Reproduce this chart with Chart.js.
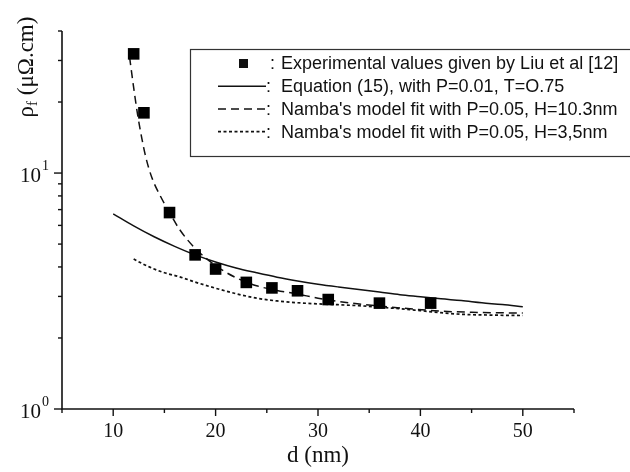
<!DOCTYPE html>
<html>
<head>
<meta charset="utf-8">
<script src="https://cdn.jsdelivr.net/npm/chart.js@4.4.0/dist/chart.umd.min.js"></script>
<style>
html, body { margin: 0; padding: 0; background: #fff; }
#wrap { width: 630px; height: 472px; }
</style>
</head>
<body>
<div id="wrap"><canvas id="chart" width="630" height="472"></canvas></div>
<script>
// Experimental points (Liu et al)
const expD = [12, 13, 15.5, 18, 20, 23, 25.5, 28, 31, 36, 41];
const expRho = [32.0, 18.0, 6.8, 4.5, 3.92, 3.44, 3.26, 3.17, 2.91, 2.81, 2.81];

// Equation (15)
const eqD = [10, 12, 14, 16, 18, 20, 22, 24, 26, 28, 30, 32, 34, 36, 38, 40, 42, 44, 46, 48, 50];
const eqRho = [6.72, 5.97, 5.37, 4.89, 4.5, 4.2, 3.96, 3.78, 3.62, 3.49, 3.38, 3.29, 3.21, 3.13, 3.05, 2.99, 2.93, 2.88, 2.82, 2.77, 2.71];

// Namba fit, H=10.3nm
const nambaAD = [11.6, 12, 12.4, 12.8, 13.2, 13.8, 14.6, 15.5, 16.5, 18, 20, 22, 24, 26, 28, 30, 33, 36, 39, 42, 45, 50];
const nambaARho = [31, 23, 17.5, 14, 11.6, 9.5, 8.0, 6.8, 5.75, 4.8, 4.05, 3.6, 3.33, 3.18, 3.07, 2.95, 2.82, 2.73, 2.66, 2.6, 2.57, 2.55];

// Namba fit, H=3.5nm
const nambaBD = [12, 13, 14, 15, 16.5, 18, 20, 22, 24, 26, 28, 30, 34, 36, 38, 40, 42, 44, 47, 50];
const nambaBRho = [4.32, 4.1, 3.92, 3.78, 3.63, 3.45, 3.25, 3.08, 2.95, 2.87, 2.82, 2.79, 2.74, 2.7, 2.66, 2.61, 2.56, 2.52, 2.5, 2.49];

// Axis ticks
const xTicks = [5, 10, 15, 20, 25, 30, 35, 40, 45, 50, 55];
const xTickLabels = [10, 20, 30, 40, 50];
const yTicks = [1, 2, 3, 4, 5, 6, 7, 8, 9, 10, 20, 30, 40];
const yTickLabels = [1, 10];
const yTickExp = ['0', '1'];

const serif = '"Liberation Serif", "Times New Roman", serif';
const sans = '"Liberation Sans", Arial, sans-serif';

function pts(xs, ys) {
    return xs.map((x, i) => ({ x: x, y: ys[i] }));
}

const axesPlugin = {
    id: 'axesPlugin',
    afterDraw(chart) {
        const ctx = chart.ctx;
        const xs = chart.scales.x;
        const ys = chart.scales.y;
        const a = chart.chartArea;
        ctx.save();
        ctx.strokeStyle = '#111';
        ctx.fillStyle = '#111';
        ctx.lineWidth = 1.6;

        // axis lines
        ctx.beginPath();
        ctx.moveTo(a.left, a.top);
        ctx.lineTo(a.left, a.bottom);
        ctx.lineTo(a.right, a.bottom);
        ctx.stroke();

        // x ticks
        ctx.lineWidth = 1.4;
        xTicks.forEach(v => {
            const px = xs.getPixelForValue(v);
            const len = xTickLabels.includes(v) ? 7 : 4;
            ctx.beginPath();
            ctx.moveTo(px, a.bottom);
            ctx.lineTo(px, a.bottom + len);
            ctx.stroke();
        });
        ctx.font = '20px ' + serif;
        ctx.textAlign = 'center';
        ctx.textBaseline = 'middle';
        xTickLabels.forEach(v => {
            ctx.fillText(String(v), xs.getPixelForValue(v), a.bottom + 23);
        });

        // y ticks
        yTicks.forEach(v => {
            const py = ys.getPixelForValue(v);
            const len = yTickLabels.includes(v) ? 8 : 4;
            ctx.beginPath();
            ctx.moveTo(a.left, py);
            ctx.lineTo(a.left - len, py);
            ctx.stroke();
        });
        yTickLabels.forEach((v, i) => {
            const py = ys.getPixelForValue(v);
            ctx.font = '21px ' + serif;
            ctx.textAlign = 'right';
            ctx.fillText('10', a.left - 21, py + 3);
            ctx.font = '14px ' + serif;
            ctx.textAlign = 'left';
            ctx.fillText(yTickExp[i], a.left - 20, py - 7);
        });

        // axis titles
        ctx.font = '23px ' + serif;
        ctx.textAlign = 'center';
        ctx.fillText('d (nm)', (xs.getPixelForValue(30)), a.bottom + 47);

        ctx.save();
        ctx.translate(27, 67);
        ctx.rotate(-Math.PI / 2);
        ctx.textAlign = 'left';
        const big = '23px ' + serif;
        const small = '15px ' + serif;
        ctx.font = big;
        const w1 = ctx.measureText('\u03C1').width;
        const w3 = ctx.measureText(' (\u03BC\u03A9.cm)').width;
        ctx.font = small;
        const w2 = ctx.measureText('f').width;
        let x0 = -(w1 + w2 + w3) / 2;
        ctx.font = big;
        ctx.fillText('\u03C1', x0, 0);
        ctx.font = small;
        ctx.fillText('f', x0 + w1, 6);
        ctx.font = big;
        ctx.fillText(' (\u03BC\u03A9.cm)', x0 + w1 + w2, 0);
        ctx.restore();

        // legend box
        ctx.lineWidth = 1.2;
        ctx.strokeStyle = '#333';
        ctx.strokeRect(190.5, 49.5, 460, 107);
        ctx.strokeStyle = '#111';
        ctx.font = '18px ' + sans;
        ctx.textAlign = 'left';
        ctx.textBaseline = 'middle';
        chart.data.datasets.forEach((ds, i) => {
            const y = 63.5 + i * 22.7;
            if (ds.showLine === false) {
                ctx.fillRect(243.5 - 4.5, y - 4.5, 9, 9);
            } else {
                ctx.lineWidth = ds.borderWidth;
                ctx.setLineDash(ds.borderDash || []);
                ctx.beginPath();
                ctx.moveTo(218, y);
                ctx.lineTo(266, y);
                ctx.stroke();
                ctx.setLineDash([]);
            }
            ctx.fillText(':', i === 0 ? 270 : 266, y + 1);
            ctx.fillText(ds.label, 281, y + 1);
        });
        ctx.restore();
    }
};

const lineBase = {
    showLine: true,
    pointRadius: 0,
    borderColor: '#111',
    backgroundColor: '#111',
    borderWidth: 1.5,
    cubicInterpolationMode: 'monotone',
    fill: false
};

new Chart(document.getElementById('chart').getContext('2d'), {
    type: 'scatter',
    data: {
        datasets: [
            {
                label: 'Experimental values given by Liu et al [12]',
                data: pts(expD, expRho),
                showLine: false,
                pointStyle: 'rect',
                pointRadius: 8.2,
                backgroundColor: '#000',
                borderColor: '#000',
                borderWidth: 0
            },
            Object.assign({}, lineBase, {
                label: 'Equation (15), with P=0.01, T=O.75',
                data: pts(eqD, eqRho)
            }),
            Object.assign({}, lineBase, {
                label: "Namba's model fit with P=0.05, H=10.3nm",
                data: pts(nambaAD, nambaARho),
                borderDash: [8, 5]
            }),
            Object.assign({}, lineBase, {
                label: "Namba's model fit with P=0.05, H=3,5nm",
                data: pts(nambaBD, nambaBRho),
                borderDash: [3, 2.5],
                borderWidth: 1.7
            })
        ]
    },
    options: {
        responsive: false,
        animation: false,
        layout: { padding: { left: 62, right: 56, top: 31, bottom: 63 } },
        plugins: {
            legend: { display: false },
            tooltip: { enabled: false }
        },
        scales: {
            x: { type: 'linear', min: 5, max: 55, display: false },
            y: { type: 'logarithmic', min: 1, max: 40, display: false }
        }
    },
    plugins: [axesPlugin]
});
</script>
</body>
</html>
